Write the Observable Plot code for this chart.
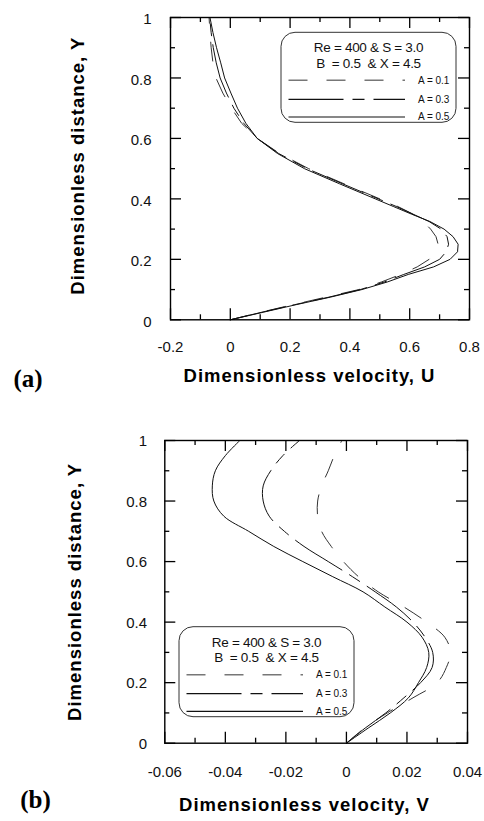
<!DOCTYPE html>
<html><head><meta charset="utf-8">
<script src="https://cdn.jsdelivr.net/npm/d3@7"></script>
<script src="https://cdn.jsdelivr.net/npm/@observablehq/plot@0.6"></script>
<style>
body{margin:0;background:#fff;}
#root{position:relative;width:484px;height:821px;overflow:hidden;background:#fff;font-family:"Liberation Sans",Arial,sans-serif;}
#root > svg{position:absolute;left:0;overflow:visible;}
#root g[font-weight="bold"] text{letter-spacing:1px;}
</style></head><body><div id="root"></div>
<script>
// ---------- DATA: panel (a) U vs Y ----------
const yTop = [0,0.025,0.05,0.075,0.1,0.125,0.15,0.175,0.2,0.225,0.25,0.275,0.3,0.325,0.35,0.375,0.4,0.45,0.5,0.55,0.6,0.65,0.7,0.75,0.8,0.85,0.9,0.95,1.0];
const uA01 = [0,0.102,0.21,0.32,0.43,0.505,0.57,0.625,0.665,0.688,0.695,0.688,0.67,0.645,0.61,0.56,0.5,0.38,0.262,0.165,0.09,0.038,0.004,-0.025,-0.048,-0.058,-0.064,-0.068,-0.071];
const uA03 = [0,0.105,0.215,0.33,0.435,0.515,0.58,0.65,0.70,0.722,0.73,0.725,0.705,0.665,0.61,0.555,0.495,0.375,0.257,0.162,0.09,0.045,0.012,-0.013,-0.034,-0.047,-0.057,-0.064,-0.069];
const uA05 = [0,0.11,0.22,0.335,0.44,0.525,0.595,0.68,0.735,0.76,0.762,0.745,0.715,0.668,0.605,0.545,0.485,0.365,0.248,0.158,0.09,0.052,0.024,0.002,-0.019,-0.032,-0.046,-0.058,-0.068];
const xMajorTop = [-0.2,0,0.2,0.4,0.6,0.8];
const xLabelsTop = ["-0.2","0","0.2","0.4","0.6","0.8"];
const xMinorTop = [-0.1,0.1,0.3,0.5,0.7];

// ---------- DATA: panel (b) V vs Y ----------
const yBot = [0,0.05,0.1,0.15,0.2,0.25,0.3,0.35,0.4,0.45,0.5,0.55,0.6,0.65,0.7,0.75,0.8,0.85,0.9,0.95,1.0];
const vA01 = [0,0.006,0.0135,0.022,0.030,0.033,0.0344,0.0325,0.0265,0.019,0.0105,0.004,-0.001,-0.005,-0.0082,-0.0095,-0.0095,-0.0082,-0.006,-0.004,-0.0015];
const vA03 = [0,0.0062,0.013,0.019,0.0245,0.0283,0.0285,0.026,0.022,0.0165,0.0095,0.002,-0.006,-0.014,-0.0205,-0.0255,-0.0275,-0.0275,-0.025,-0.021,-0.0155];
const vA05 = [0,0.0072,0.0145,0.0205,0.0238,0.0265,0.0272,0.025,0.020,0.0127,0.0055,-0.0045,-0.0144,-0.024,-0.0323,-0.0405,-0.0438,-0.0443,-0.0433,-0.040,-0.0352];
const xMajorBot = [-0.06,-0.04,-0.02,0,0.02,0.04];
const xLabelsBot = ["-0.06","-0.04","-0.02","0","0.02","0.04"];
const xMinorBot = [-0.05,-0.03,-0.01,0.01,0.03];

// ---------- shared ----------
const yMajor = [0,0.2,0.4,0.6,0.8,1];
const yLabels = ["0","0.2","0.4","0.6","0.8","1"];
const yMinor = [0.1,0.3,0.5,0.7,0.9];
const seriesNames = ["A = 0.1","A = 0.3","A = 0.5"];
const legendLine1 = "Re = 400 & S = 3.0";
const legendLine2 = "B \u00a0= 0.5 \u00a0& X = 4.5";

const dashes = ["19,19","55,9,12,9",null];
const curveColors = ["#333","#111","#111"];
const legendColors = ["#777","#111","#111"];

const root = document.getElementById("root");
const FONT = '"Liberation Sans", Arial, sans-serif';

function panel(o) {
  const plotH = o.height - o.mt - o.mb;
  const plotW = 484 - o.ml - o.mr;
  const MAJ = 11, MIN = 5;
  const marks = [];
  o.series.forEach((vals, k) => {
    const rows = o.ys.map((y, i) => ({v: vals[i], y}));
    marks.push(Plot.line(rows, {x: "v", y: "y", stroke: curveColors[k], strokeWidth: 1,
      strokeDasharray: dashes[k], curve: o.curve}));
  });
  const tk = {stroke: "black", strokeWidth: 1.3};
  marks.push(Plot.tickX(o.xMajor, {x: d => d, insetTop: plotH - MAJ, ...tk}));
  marks.push(Plot.tickX(o.xMajor, {x: d => d, insetBottom: plotH - MAJ, ...tk}));
  marks.push(Plot.tickX(o.xMinor, {x: d => d, insetTop: plotH - MIN, ...tk}));
  marks.push(Plot.tickX(o.xMinor, {x: d => d, insetBottom: plotH - MIN, ...tk}));
  marks.push(Plot.tickY(yMajor, {y: d => d, insetRight: plotW - MAJ, ...tk}));
  marks.push(Plot.tickY(yMajor, {y: d => d, insetLeft: plotW - MAJ, ...tk}));
  marks.push(Plot.tickY(yMinor, {y: d => d, insetRight: plotW - MIN, ...tk}));
  marks.push(Plot.tickY(yMinor, {y: d => d, insetLeft: plotW - MIN, ...tk}));
  marks.push(Plot.frame({stroke: "black", strokeWidth: 1.4}));
  marks.push(Plot.text(o.xMajor.map((v, i) => ({v, t: o.xLabels[i]})),
    {x: "v", text: "t", frameAnchor: "bottom", dy: o.xLabDy, lineAnchor: "middle", textAnchor: "middle",
     fontSize: 15, fill: "#111"}));
  marks.push(Plot.text(yMajor.map((v, i) => ({v, t: yLabels[i]})),
    {y: "v", text: "t", frameAnchor: "left", dx: o.yLabDx, dy: o.yLabDy, textAnchor: "end", lineAnchor: "middle",
     fontSize: 15, fill: "#111"}));
  marks.push(Plot.text([o.xTitle], {frameAnchor: "bottom", dx: o.xTitleDx, dy: o.xTitleDy,
    textAnchor: "middle", lineAnchor: "middle", fontSize: 18.5, fontWeight: "bold", fill: "black"}));
  marks.push(Plot.text([o.yTitle], {frameAnchor: "left", dx: o.yTitleDx, dy: o.yTitleDy, rotate: -90,
    textAnchor: "middle", lineAnchor: "middle", fontSize: 18.5, fontWeight: "bold", fill: "black"}));
  marks.push(Plot.text([o.tag], {frameAnchor: "bottom-left", dx: o.tagDx, dy: o.tagDy,
    textAnchor: "middle", lineAnchor: "middle", fontSize: 25, fontWeight: 700,
    fontFamily: '"Liberation Serif", "Times New Roman", serif', fill: "black"}));

  const svg = Plot.plot({
    width: 484, height: o.height,
    marginLeft: o.ml, marginRight: o.mr, marginTop: o.mt, marginBottom: o.mb,
    x: {domain: o.xDomain, axis: null},
    y: {domain: [0, 1], axis: null},
    style: {fontFamily: FONT, background: "transparent", overflow: "visible"},
    marks
  });
  svg.style.top = o.top + "px";
  root.appendChild(svg);
}

panel({
  top: 0, height: 400, ml: 170, mr: 15, mt: 17, mb: 80.7,
  xDomain: [-0.2, 0.8], ys: yTop, series: [uA01, uA03, uA05], curve: "linear",
  xMajor: xMajorTop, xMinor: xMinorTop, xLabels: xLabelsTop,
  xLabDy: 27.4, yLabDx: -19, yLabDy: 2,
  xTitle: "Dimensionless velocity, U", xTitleDx: -10.5, xTitleDy: 56,
  yTitle: "Dimensionless distance, Y", yTitleDx: -92, yTitleDy: -3,
  tag: "(a)", tagDx: -142.5, tagDy: 59
});
panel({
  top: 420, height: 401, ml: 164.3, mr: 17, mt: 20, mb: 78.3,
  xDomain: [-0.06, 0.04], ys: yBot, series: [vA01, vA03, vA05], curve: "catmull-rom",
  xMajor: xMajorBot, xMinor: xMinorBot, xLabels: xLabelsBot,
  xLabDy: 29, yLabDx: -17.7, yLabDy: 1,
  xTitle: "Dimensionless velocity, V", xTitleDx: -11.7, xTitleDy: 62,
  yTitle: "Dimensionless distance, Y", yTitleDx: -89.3, yTitleDy: 0,
  tag: "(b)", tagDx: -129.3, tagDy: 57
});

const ov = d3.select(root).append("svg")
  .attr("width", 484).attr("height", 821).style("top", "0px").style("pointer-events", "none");
function legend(bx, by) {
  const g = ov.append("g").attr("transform", `translate(${bx},${by})`).attr("font-family", FONT);
  g.append("rect").attr("x", 0).attr("y", 0).attr("width", 175).attr("height", 90)
    .attr("rx", 14).attr("ry", 14).attr("fill", "white").attr("stroke", "#333").attr("stroke-width", 1);
  g.append("text").attr("x", 87.5).attr("y", 15.7).attr("text-anchor", "middle").attr("dominant-baseline", "central")
    .attr("font-size", 13.5).attr("fill", "#111").attr("letter-spacing", "-0.3").text(legendLine1);
  g.append("text").attr("x", 87.5).attr("y", 31.3).attr("text-anchor", "middle").attr("dominant-baseline", "central")
    .attr("font-size", 13.5).attr("fill", "#111").attr("letter-spacing", "-0.3").text(legendLine2);
  const rowsY = [48, 67, 84.7];
  seriesNames.forEach((name, k) => {
    g.append("line").attr("x1", 7.5).attr("x2", 124).attr("y1", rowsY[k]).attr("y2", rowsY[k])
      .attr("stroke", legendColors[k]).attr("stroke-width", k === 0 ? 1.6 : 1.2)
      .attr("stroke-dasharray", dashes[k]);
    g.append("text").attr("x", 137).attr("y", rowsY[k]).attr("dominant-baseline", "central")
      .attr("font-size", 10).attr("fill", "#111").text(name);
  });
}
legend(281, 32.3);
legend(179, 626.7);
</script>
</body></html>
